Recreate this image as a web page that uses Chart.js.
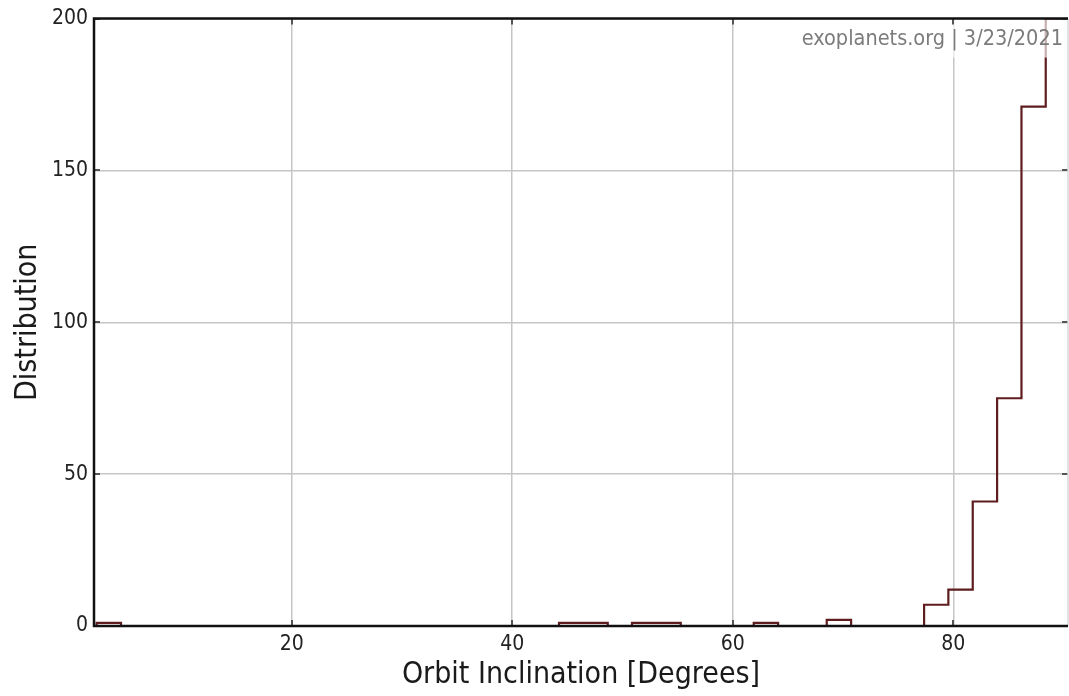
<!DOCTYPE html>
<html>
<head>
<meta charset="utf-8">
<title>Orbit Inclination</title>
<script src="https://cdn.jsdelivr.net/npm/chart.js@4.4.1/dist/chart.umd.min.js"></script>
<style>
    html, body { margin: 0; padding: 0; background: #ffffff; }
    canvas { display: block; }
</style>
</head>
<body>
<canvas id="histChart" width="1069" height="696"></canvas>
<script>
// histogram bin edges (degrees)
const binEdges = [
    2.31, 4.52, 6.72, 8.93, 11.14, 13.35, 15.55, 17.76, 19.97, 22.17,
    24.38, 26.59, 28.79, 31.00, 33.21, 35.42, 37.62, 39.83, 42.04, 44.24,
    46.45, 48.66, 50.86, 53.07, 55.28, 57.49, 59.69, 61.90, 64.11, 66.31,
    68.52, 70.73, 72.93, 75.14, 77.35, 79.55, 81.76, 83.97, 86.18, 88.38,
    90.59
];
// planet count per bin
const binCounts = [
    1, 0, 0, 0, 0, 0, 0, 0, 0, 0,
    0, 0, 0, 0, 0, 0, 0, 0, 0, 1,
    1, 0, 1, 1, 0, 0, 0, 1, 0, 0,
    2, 0, 0, 0, 7, 12, 41, 75, 171, 200
];
const xTickValues = [20, 40, 60, 80];
const yTickValues = [0, 50, 100, 150, 200];
const xRange = [2.07, 90.4];
const yRange = [0, 200];
const watermark = 'exoplanets.org | 3/23/2021';

const FONT = "'DejaVu Sans Condensed', 'DejaVu Sans', sans-serif";
const LINE_COLOR = '#5e1c1e';
const GRID_COLOR = '#c6c6c6';

// step outline: start at zero, each bin's count at its left edge, close at the last edge
function buildSteps(edges, counts) {
    const pts = [{ x: edges[0], y: 0 }];
    counts.forEach((c, i) => pts.push({ x: edges[i], y: c }));
    pts.push({ x: edges[edges.length - 1], y: counts[counts.length - 1] });
    return pts;
}

// frame, inward tick marks and the watermark are drawn over the data
const framePlugin = {
    id: 'frame',
    afterDatasetsDraw(chart) {
        const { ctx, chartArea: a, scales } = chart;
        ctx.save();

        // watermark with a light backing box
        ctx.fillStyle = 'rgba(255,255,255,0.65)';
        ctx.fillRect(796, a.top + 1, a.right - 796, 38);
        ctx.font = '21.5px ' + FONT;
        ctx.fillStyle = '#7b7b7b';
        ctx.textAlign = 'right';
        ctx.textBaseline = 'middle';
        ctx.fillText(watermark, a.right - 5, a.top + 21);

        // small inward ticks
        ctx.strokeStyle = '#555555';
        ctx.lineWidth = 2;
        ctx.beginPath();
        xTickValues.forEach(v => {
            const px = Math.round(scales.x.getPixelForValue(v));
            ctx.moveTo(px, a.bottom); ctx.lineTo(px, a.bottom - 6);
            ctx.moveTo(px, a.top); ctx.lineTo(px, a.top + 6);
        });
        yTickValues.forEach(v => {
            const py = Math.round(scales.y.getPixelForValue(v));
            ctx.moveTo(a.left, py); ctx.lineTo(a.left + 6, py);
            ctx.moveTo(a.right, py); ctx.lineTo(a.right - 6, py);
        });
        ctx.stroke();

        // right border is faint, the other three are black
        ctx.strokeStyle = '#d8d8d8';
        ctx.lineWidth = 1.5;
        ctx.beginPath();
        ctx.moveTo(a.right, a.top); ctx.lineTo(a.right, a.bottom);
        ctx.stroke();

        ctx.strokeStyle = '#111111';
        ctx.lineWidth = 2.5;
        ctx.beginPath();
        ctx.moveTo(a.right, a.top);
        ctx.lineTo(a.left, a.top);
        ctx.lineTo(a.left, a.bottom);
        ctx.lineTo(a.right, a.bottom);
        ctx.stroke();
        ctx.restore();
    }
};

const histData = {
    datasets: [{
        label: 'Orbit Inclination',
        data: buildSteps(binEdges, binCounts),
        stepped: 'before',
        borderColor: LINE_COLOR,
        borderWidth: 2.2,
        pointRadius: 0,
        fill: false
    }]
};

const histConfig = {
    type: 'line',
    data: histData,
    options: {
        responsive: false,
        animation: false,
        layout: { padding: { top: 17, right: 1, left: 0, bottom: 0 } },
        plugins: {
            legend: { display: false },
            tooltip: { enabled: false }
        },
        scales: {
            x: {
                type: 'linear',
                min: xRange[0],
                max: xRange[1],
                afterBuildTicks: scale => {
                    scale.ticks = xTickValues.map(v => ({ value: v }));
                },
                afterFit: scale => { scale.height = 70; },
                grid: { color: GRID_COLOR, lineWidth: 1.5, drawTicks: false },
                border: { display: false },
                ticks: {
                    padding: 6,
                    color: '#222222',
                    font: { family: FONT, size: 21 },
                    maxRotation: 0
                },
                title: {
                    display: true,
                    text: 'Orbit Inclination [Degrees]',
                    color: '#1a1a1a',
                    font: { family: FONT, size: 30 },
                    padding: { top: 0, bottom: 3 }
                }
            },
            y: {
                min: yRange[0],
                max: yRange[1],
                afterBuildTicks: scale => {
                    scale.ticks = yTickValues.map(v => ({ value: v }));
                },
                afterFit: scale => { scale.width = 94; },
                grid: { color: GRID_COLOR, lineWidth: 1.5, drawTicks: false },
                border: { display: false },
                ticks: {
                    padding: 6,
                    color: '#222222',
                    font: { family: FONT, size: 21 }
                },
                title: {
                    display: true,
                    text: 'Distribution',
                    color: '#1a1a1a',
                    font: { family: FONT, size: 30 },
                    padding: { top: 10, bottom: 0 }
                }
            }
        }
    },
    plugins: [framePlugin]
};

const ctxHist = document.getElementById('histChart').getContext('2d');
const histChart = new Chart(ctxHist, histConfig);
</script>
</body>
</html>
